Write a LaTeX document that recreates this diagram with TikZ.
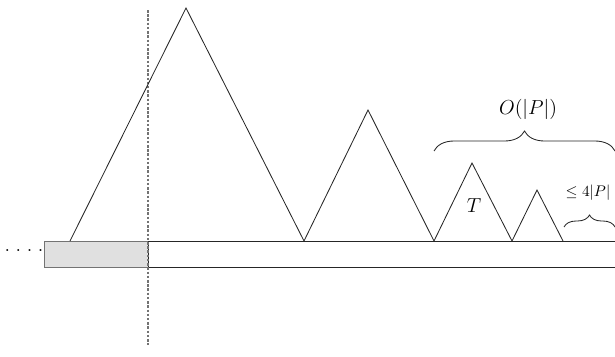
\documentclass[tikz,border=0pt]{standalone}
\usetikzlibrary{decorations.pathreplacing}
\begin{document}
\begin{tikzpicture}[x=0.025cm,y=-0.025cm,
  edge/.style={line width=0.6pt,draw=black!85},
  strip/.style={line width=0.6pt,draw=black!85},
  shaded/.style={line width=0.6pt,draw=black!55,fill=black!12},
  sep/.style={line width=0.9pt,draw=black!55,dash pattern=on 1.8pt off 1.2pt},
  bigbrace/.style={edge,decorate,decoration={brace,amplitude=0.5cm}},
  smallbrace/.style={edge,decorate,decoration={brace,amplitude=0.3cm}}]
\useasboundingbox (0,0) rectangle (615,356);
% strip
\draw[shaded] (44,241) rectangle (148,267);
\draw[strip] (615,241) -- (148,241) -- (148,267) -- (615,267);
% dots
\node[font=\fontsize{15}{17}\selectfont] (dots) at (24,251) {$.\;.\;.\;.$};
% separator
\coordinate (st) at (148,10);
\coordinate (sb) at (148,345);
\draw[sep] (st) -- (sb);
% triangles
\coordinate (a0) at (70,241);
\coordinate (p1) at (186,8);
\coordinate (a1) at (304,241);
\coordinate (p2) at (368,110);
\coordinate (a2) at (434,241);
\coordinate (p3) at (472,163);
\coordinate (a3) at (512,241);
\coordinate (p4) at (537,190);
\coordinate (a4) at (563,241);
\draw[edge,line join=miter] (a0) -- (p1) -- (a1) -- (p2) -- (a2) -- (p3) -- (a3) -- (p4) -- (a4);
\node[font=\fontsize{15}{17}\selectfont] (T) at (474,206) {$T$};
% braces
\coordinate (b1l) at (434,151);
\coordinate (b1r) at (615,151);
\draw[bigbrace] (b1l) -- (b1r);
\node[font=\fontsize{15.5}{18}\selectfont] (O) at (528,109) {$O(|P|)$};
\coordinate (b2l) at (564,227);
\coordinate (b2r) at (615,227);
\draw[smallbrace] (b2l) -- (b2r);
\node[font=\fontsize{10.5}{12}\selectfont] (L) at (588,193) {$\le 4|P|$};
\end{tikzpicture}
\end{document}
